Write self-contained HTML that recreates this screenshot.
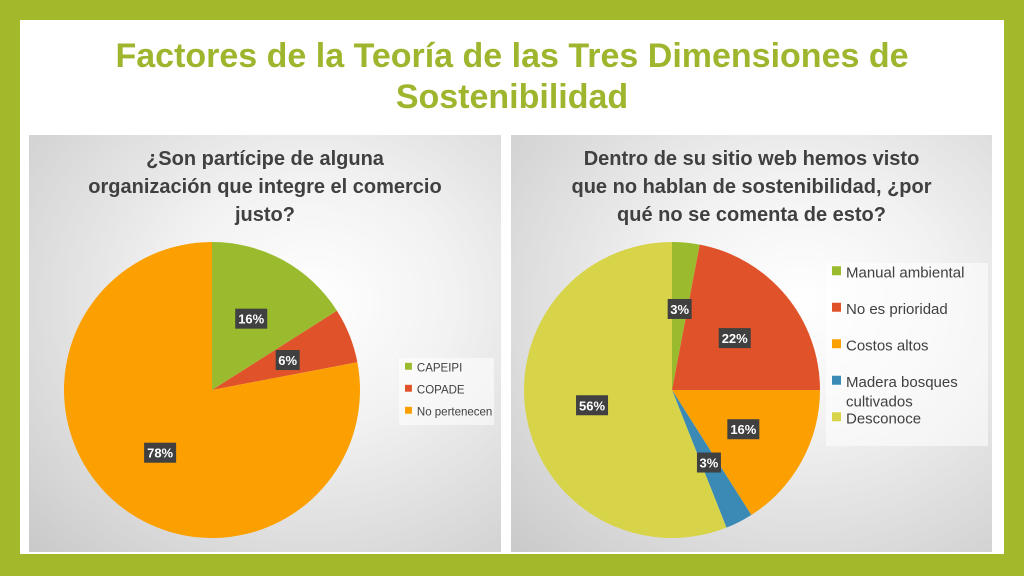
<!DOCTYPE html>
<html><head><meta charset="utf-8"><style>
body{margin:0;width:1024px;height:576px;background:#a3b82a;font-family:"Liberation Sans",sans-serif;overflow:hidden;position:relative}
#slide{position:absolute;left:20px;top:20px;width:984px;height:534px;background:#fff}
.title{position:absolute;left:0;top:36px;width:1024px;text-align:center;color:#9db62e;font-weight:bold;font-size:34px;line-height:41px}
.panel{position:absolute;top:135px;height:417px;background:radial-gradient(ellipse at 60% 40%,#fff 0%,#f2f2f2 35%,#c9c9c9 100%)}
.ct{position:absolute;left:0;width:100%;top:10px;text-align:center;color:#404040;font-weight:bold;font-size:20px;line-height:28px}
svg{position:absolute;left:0;top:0}
</style></head><body>
<div id="slide"></div>
<div class="title">Factores de la Teoría de las Tres Dimensiones de<br>Sostenibilidad</div>
<div class="panel" style="left:29px;width:472px">
<div class="ct">¿Son partícipe de alguna<br>organización que integre el comercio<br>justo?</div></div>
<div class="panel" style="left:511px;width:481px">
<div class="ct">Dentro de su sitio web hemos visto<br>que no hablan de sostenibilidad, ¿por<br>qué no se comenta de esto?</div></div>
<svg id="chart" width="1024" height="576"></svg>
<script>
const leftCats=["CAPEIPI","COPADE","No pertenecen"];
const leftVals=[16,6,78];
const rightCats=["Manual ambiental","No es prioridad","Costos altos","Madera bosques cultivados","Desconoce"];
const rightVals=[3,22,16,3,56];
const leftColors=["#9bbb2e","#e0532a","#fba000"];
const rightColors=["#9bbb2e","#e0532a","#fba000","#3a8ab5","#d8d44a"];
const NS="http://www.w3.org/2000/svg";
const svg=document.getElementById("chart");
function mk(t,a){const e=document.createElementNS(NS,t);for(const k in a)e.setAttribute(k,a[k]);svg.appendChild(e);return e;}
function pie(cx,cy,r,vals,colors,name,lr){
 const tot=vals.reduce((a,b)=>a+b,0);let acc=0;
 vals.forEach((v,i)=>{
  const a0=acc/tot*2*Math.PI;acc+=v;const a1=acc/tot*2*Math.PI;
  const x0=cx+r*Math.sin(a0),y0=cy-r*Math.cos(a0),x1=cx+r*Math.sin(a1),y1=cy-r*Math.cos(a1);
  const p=mk("path",{d:`M${cx},${cy}L${x0},${y0}A${r},${r} 0 ${a1-a0>Math.PI?1:0} 1 ${x1},${y1}Z`,fill:colors[i]});
  
  
 });
 acc=0;
 vals.forEach((v,i)=>{
  const am=(acc+v/2)/tot*2*Math.PI;acc+=v;
  const lx=cx+r*lr*Math.sin(am),ly=cy-r*lr*Math.cos(am);
  const t=v+"%";const w=t.length*8+8;
  const b=mk("rect",{x:lx-w/2,y:ly-10,width:w,height:20,fill:"#404040"});
  
  
  const tx=mk("text",{x:lx,y:ly+5,"text-anchor":"middle",fill:"#fff","font-size":"13","font-weight":"bold","font-family":"Liberation Sans, sans-serif"});
  tx.textContent=t;
  
  
 });
}
function legend(x,y,w,h,cats,colors,step,fs,name){
 const bg=mk("rect",{x:x,y:y,width:w,height:h,fill:"#fff","fill-opacity":"0.55"});
 
 
 let yy=y+10;
 cats.forEach((c,i)=>{
  const sq=mk("rect",{x:x+6,y:yy-fs*0.45,width:fs*0.6,height:fs*0.6,fill:colors[i]});
  
  
  const words=c.length>20?[c.split(" ").slice(0,2).join(" "),c.split(" ").slice(2).join(" ")]:[c];
  words.forEach((wd,j)=>{
   const t=mk("text",{x:x+6+fs*0.6+5,y:yy+fs*0.3+j*fs*1.3,fill:"#404040","font-size":fs,"font-family":"Liberation Sans, sans-serif"});
   t.textContent=wd;
   
   
  });
  yy+=step;
 });
}
pie(212,390,148,leftVals,leftColors,"left",0.55);
pie(672,390,148,rightVals,rightColors,"right",0.55);
legend(399,358,95,67,leftCats,leftColors,22,11.5,"left");
legend(826,263,162,183,rightCats,rightColors,36.5,15,"right");
</script>
</body></html>
